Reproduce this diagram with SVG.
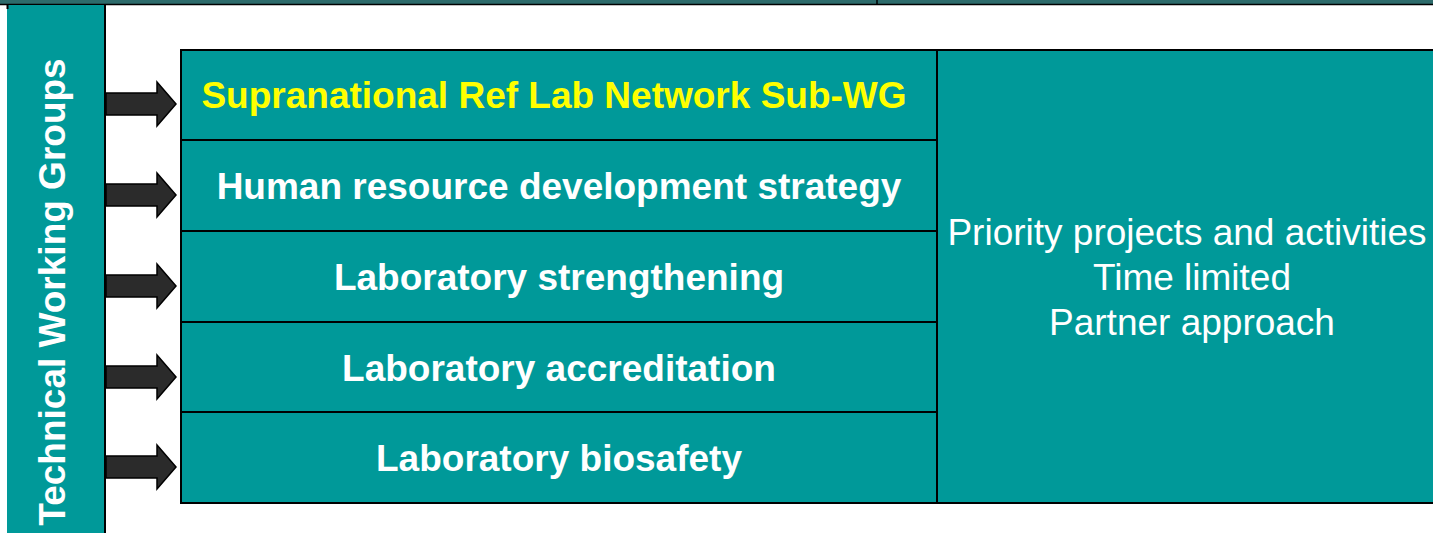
<svg xmlns="http://www.w3.org/2000/svg" width="1433" height="533" viewBox="0 0 1433 533">
<style>
.box{fill:#009999;stroke:#000;stroke-width:2}
.lbl{font-family:"Liberation Sans",Arial,sans-serif;font-weight:bold;font-size:37px;fill:#fff;text-anchor:middle}
.side{font-family:"Liberation Sans",Arial,sans-serif;font-size:37px;fill:#fff;text-anchor:middle}
.arrow{fill:#2b2b2b;stroke:#000;stroke-width:1.5;stroke-linejoin:miter}
</style>
<defs>
<path id="arr" class="arrow" d="M106,-11 H157 V-22 L176,0 L157,22 V11 H106 Z"/>
</defs>
<rect width="1433" height="533" fill="#fff"/>
<g id="topbar">
<rect x="0" y="0" width="1433" height="4" fill="#2d6b6b"/>
<line x1="0" y1="4.5" x2="1433" y2="4.5" stroke="#000" stroke-width="1.5"/>
<line x1="877" y1="0" x2="877" y2="5" stroke="#000" stroke-width="1.5"/>
</g>
<g id="twg">
<rect x="7" y="5" width="98" height="530" fill="#009999"/>
<line x1="105" y1="5" x2="105" y2="533" stroke="#000" stroke-width="2"/>
<line x1="7.5" y1="5" x2="7.5" y2="9" stroke="#000" stroke-width="2"/>
<text class="lbl" transform="translate(65,292) rotate(-90)">Technical Working Groups</text>
</g>
<g id="connectors">
<use href="#arr" y="104"/>
<use href="#arr" y="195"/>
<use href="#arr" y="286"/>
<use href="#arr" y="377"/>
<use href="#arr" y="467"/>
</g>
<g id="n1"><rect class="box" x="181" y="50" width="756" height="90"/><text class="lbl" x="554" y="108" style="fill:#ffff00">Supranational Ref Lab Network Sub-WG</text></g>
<g id="n2"><rect class="box" x="181" y="140" width="756" height="91"/><text class="lbl" x="559" y="199">Human resource development strategy</text></g>
<g id="n3"><rect class="box" x="181" y="231" width="756" height="91"/><text class="lbl" x="559" y="290">Laboratory strengthening</text></g>
<g id="n4"><rect class="box" x="181" y="322" width="756" height="90"/><text class="lbl" x="559" y="381">Laboratory accreditation</text></g>
<g id="n5"><rect class="box" x="181" y="412" width="756" height="91"/><text class="lbl" x="559" y="471">Laboratory biosafety</text></g>
<g id="right">
<rect class="box" x="937" y="50" width="500" height="453"/>
<text class="side" x="1187" y="245">Priority projects and activities</text>
<text class="side" x="1192" y="290">Time limited</text>
<text class="side" x="1192" y="335">Partner approach</text>
</g>
</svg>
